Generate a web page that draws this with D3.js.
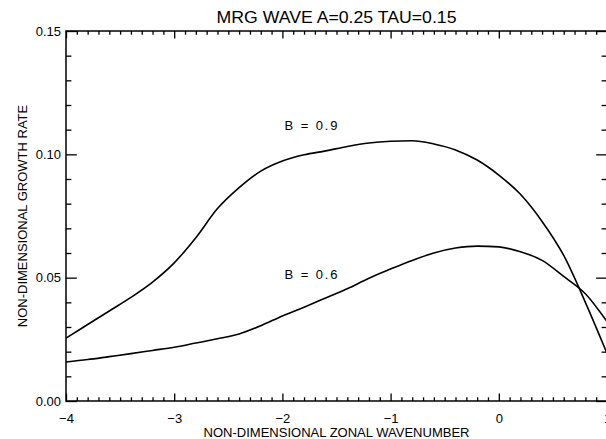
<!DOCTYPE html>
<html>
<head>
<meta charset="utf-8">
<script src="https://cdn.jsdelivr.net/npm/d3@7"></script>
<style>
  html, body { margin: 0; padding: 0; background: #fff; }
  svg { display: block; }
  text { font-family: "Liberation Sans", Arial, Helvetica, sans-serif; fill: #000; }
</style>
</head>
<body>
<svg id="chart" width="606" height="439"></svg>
<script>
// ---- data ----
const title = "MRG WAVE A=0.25 TAU=0.15";
const xTitle = "NON-DIMENSIONAL ZONAL WAVENUMBER";
const yTitle = "NON-DIMENSIONAL GROWTH RATE";
const xTickValues = [-4, -3, -2, -1, 0, 1];
const yTickValues = [0.00, 0.05, 0.10, 0.15];
const xDomain = [-4, 1];
const yDomain = [0, 0.15];

const waveNumber = [-4.0, -3.8, -3.6, -3.4, -3.2, -3.0, -2.8, -2.6, -2.4, -2.2, -2.0,
                    -1.8, -1.6, -1.4, -1.2, -1.0, -0.8, -0.6, -0.4, -0.2, 0.0,
                    0.2, 0.4, 0.6, 0.8, 1.0];
const growthB09 = [0.0255, 0.0310, 0.0365, 0.0420, 0.0482, 0.0560, 0.0662, 0.0780, 0.0865, 0.0932, 0.0973,
                   0.0998, 0.1014, 0.1032, 0.1046, 0.1053, 0.1055, 0.1042, 0.1018, 0.0977, 0.0916,
                   0.0838, 0.0728, 0.0590, 0.0400, 0.0193];
const growthB06 = [0.0158, 0.0168, 0.0180, 0.0192, 0.0205, 0.0218, 0.0235, 0.0252, 0.0272, 0.0305, 0.0345,
                   0.0380, 0.0418, 0.0455, 0.0498, 0.0535, 0.0570, 0.0600, 0.0620, 0.0628, 0.0625,
                   0.0605, 0.0570, 0.0505, 0.0435, 0.0322];
const seriesLabels = ["B = 0.9", "B = 0.6"];
const labelAnchors = [[-1.98, 0.1100], [-1.98, 0.0495]];

// ---- layout ----
const svg = d3.select("#chart");
const mLeft = 66, mRight = 607, mTop = 31, mBottom = 401;
const x = d3.scaleLinear().domain(xDomain).range([mLeft, mRight]);
const y = d3.scaleLinear().domain(yDomain).range([mBottom, mTop]);

const xMinor = d3.range(-40, 11).map(d => d / 10).filter(d => Math.abs(d - Math.round(d)) > 1e-9);
const yMinor = d3.range(0, 16).map(d => d / 100).filter(d => Math.abs(d * 20 - Math.round(d * 20)) > 1e-9);

const xMajLen = 7.4, xMinLen = 3.7, yMajLen = 10.8, yMinLen = 5.4;
const fmtX = d => (d < 0 ? "\u2212" + Math.abs(d) : String(d));

function styleAxis(g) {
  g.select(".domain").remove();
  g.selectAll(".tick line").attr("stroke", "#000").attr("stroke-width", 1.3);
  g.selectAll(".tick text").style("font-size", "13px").attr("fill", "#000");
}

// bottom axis
svg.append("g").attr("transform", `translate(0,${mBottom})`)
  .call(d3.axisBottom(x).tickValues(xTickValues).tickSize(-xMajLen).tickPadding(13).tickFormat(fmtX))
  .call(styleAxis);
svg.append("g").attr("transform", `translate(0,${mBottom})`)
  .call(d3.axisBottom(x).tickValues(xMinor).tickSize(-xMinLen).tickFormat(""))
  .call(styleAxis);
// top axis
svg.append("g").attr("transform", `translate(0,${mTop})`)
  .call(d3.axisTop(x).tickValues(xTickValues).tickSize(-xMajLen).tickFormat(""))
  .call(styleAxis);
svg.append("g").attr("transform", `translate(0,${mTop})`)
  .call(d3.axisTop(x).tickValues(xMinor).tickSize(-xMinLen).tickFormat(""))
  .call(styleAxis);
// left axis
svg.append("g").attr("transform", `translate(${mLeft},0)`)
  .call(d3.axisLeft(y).tickValues(yTickValues).tickSize(-yMajLen).tickPadding(5).tickFormat(d3.format(".2f")))
  .call(styleAxis);
svg.append("g").attr("transform", `translate(${mLeft},0)`)
  .call(d3.axisLeft(y).tickValues(yMinor).tickSize(-yMinLen).tickFormat(""))
  .call(styleAxis);
// right axis
svg.append("g").attr("transform", `translate(${mRight},0)`)
  .call(d3.axisRight(y).tickValues(yTickValues).tickSize(-yMajLen).tickFormat(""))
  .call(styleAxis);
svg.append("g").attr("transform", `translate(${mRight},0)`)
  .call(d3.axisRight(y).tickValues(yMinor).tickSize(-yMinLen).tickFormat(""))
  .call(styleAxis);

// frame
svg.append("rect")
  .attr("x", mLeft).attr("y", mTop)
  .attr("width", mRight - mLeft).attr("height", mBottom - mTop)
  .attr("fill", "none").attr("stroke", "#000").attr("stroke-width", 1.5);

// curves
const line = d3.line().x(d => x(d[0])).y(d => y(d[1])).curve(d3.curveMonotoneX);
[growthB09, growthB06].forEach(series => {
  svg.append("path")
    .datum(waveNumber.map((w, i) => [w, series[i]]))
    .attr("d", line)
    .attr("fill", "none").attr("stroke", "#000").attr("stroke-width", 1.6);
});

// curve labels
seriesLabels.forEach((t, i) => {
  svg.append("text")
    .attr("x", x(labelAnchors[i][0])).attr("y", y(labelAnchors[i][1]))
    .style("font-size", "13px")
    .attr("textLength", 53).attr("lengthAdjust", "spacing")
    .attr("xml:space", "preserve")
    .text(t);
});

// titles
svg.append("text")
  .attr("x", (mLeft + mRight) / 2).attr("y", 23)
  .attr("text-anchor", "middle").style("font-size", "16px")
  .attr("textLength", 240).attr("lengthAdjust", "spacingAndGlyphs")
  .text(title);
svg.append("text")
  .attr("x", (mLeft + mRight) / 2).attr("y", 437)
  .attr("text-anchor", "middle").style("font-size", "13px")
  .attr("textLength", 266).attr("lengthAdjust", "spacingAndGlyphs")
  .text(xTitle);
svg.append("text")
  .attr("transform", `translate(27,${(mTop + mBottom) / 2}) rotate(-90)`)
  .attr("text-anchor", "middle").style("font-size", "13px")
  .text(yTitle);
</script>
</body>
</html>
